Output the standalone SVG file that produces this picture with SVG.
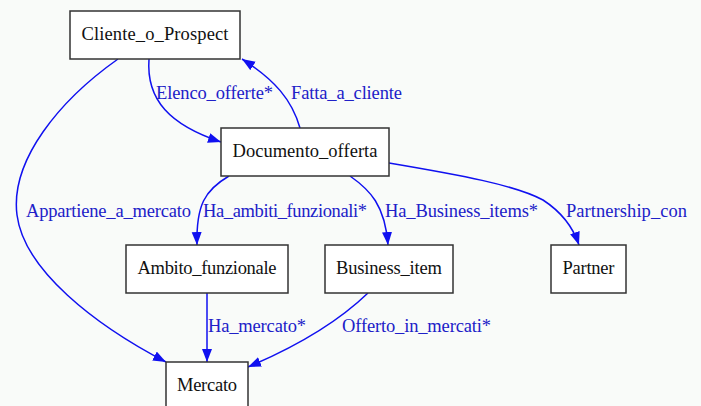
<svg xmlns="http://www.w3.org/2000/svg" width="701" height="406" viewBox="0 0 701 406" font-family="Liberation Serif, serif">
  <defs>
    <marker id="arrow" markerUnits="userSpaceOnUse" markerWidth="14" markerHeight="11" refX="13" refY="5" orient="auto">
      <path d="M0,0 L13,5 L0,10 z" fill="#1010f0"/>
    </marker>
    <style>
      .node rect { fill: #ffffff; stroke: #333333; stroke-width: 1.5; }
      .node text { font-family: "Liberation Serif", serif; font-size: 18.5px; fill: #111111; text-anchor: middle; }
      .edge { fill: none; stroke: #1010f0; stroke-width: 1.5; marker-end: url(#arrow); }
      .elabel { font-family: "Liberation Serif", serif; font-size: 18.5px; fill: #2020c8; }
    </style>
  </defs>
  <rect width="701" height="406" fill="#f9fbf9"/>

  <g id="edges">
    <path class="edge" d="M149,59 C146,100 170,125 221,142"/>
    <path class="edge" d="M300,128 C292,100 275,80 242,59"/>
    <path class="edge" d="M118,59 C60,100 10,160 17,215 C24,270 95,325 166,362"/>
    <path class="edge" d="M229,176 C205,190 196,205 197,245"/>
    <path class="edge" d="M350,176 C370,190 385,205 388,245"/>
    <path class="edge" d="M389,163 C460,175 515,185 543,200 C563,213 574,230 579,245"/>
    <path class="edge" d="M207,293 L207,362"/>
    <path class="edge" d="M368,293 C340,320 300,345 248,367"/>
    <text class="elabel" x="156" y="99" textLength="117">Elenco_offerte*</text>
    <text class="elabel" x="291" y="99" textLength="111">Fatta_a_cliente</text>
    <text class="elabel" x="26" y="217" textLength="165">Appartiene_a_mercato</text>
    <text class="elabel" x="203" y="217" textLength="164">Ha_ambiti_funzionali*</text>
    <text class="elabel" x="385" y="217" textLength="153">Ha_Business_items*</text>
    <text class="elabel" x="566" y="217" textLength="121">Partnership_con</text>
    <text class="elabel" x="208" y="332" textLength="98">Ha_mercato*</text>
    <text class="elabel" x="342" y="332" textLength="149">Offerto_in_mercati*</text>
  </g>

  <g id="Cliente_o_Prospect" class="node">
    <rect x="70" y="11" width="170" height="48"/>
    <text x="155" y="40" textLength="147">Cliente_o_Prospect</text>
  </g>
  <g id="Documento_offerta" class="node">
    <rect x="221" y="128" width="168" height="48"/>
    <text x="305" y="157" textLength="145">Documento_offerta</text>
  </g>
  <g id="Ambito_funzionale" class="node">
    <rect x="126" y="245" width="162" height="48"/>
    <text x="207" y="274" textLength="139">Ambito_funzionale</text>
  </g>
  <g id="Business_item" class="node">
    <rect x="325" y="245" width="128" height="48"/>
    <text x="389" y="274" textLength="106">Business_item</text>
  </g>
  <g id="Partner" class="node">
    <rect x="551" y="245" width="75" height="48"/>
    <text x="588.5" y="274" textLength="52">Partner</text>
  </g>
  <g id="Mercato" class="node">
    <rect x="166" y="362" width="82" height="60"/>
    <text x="207" y="391" textLength="60">Mercato</text>
  </g>
</svg>
